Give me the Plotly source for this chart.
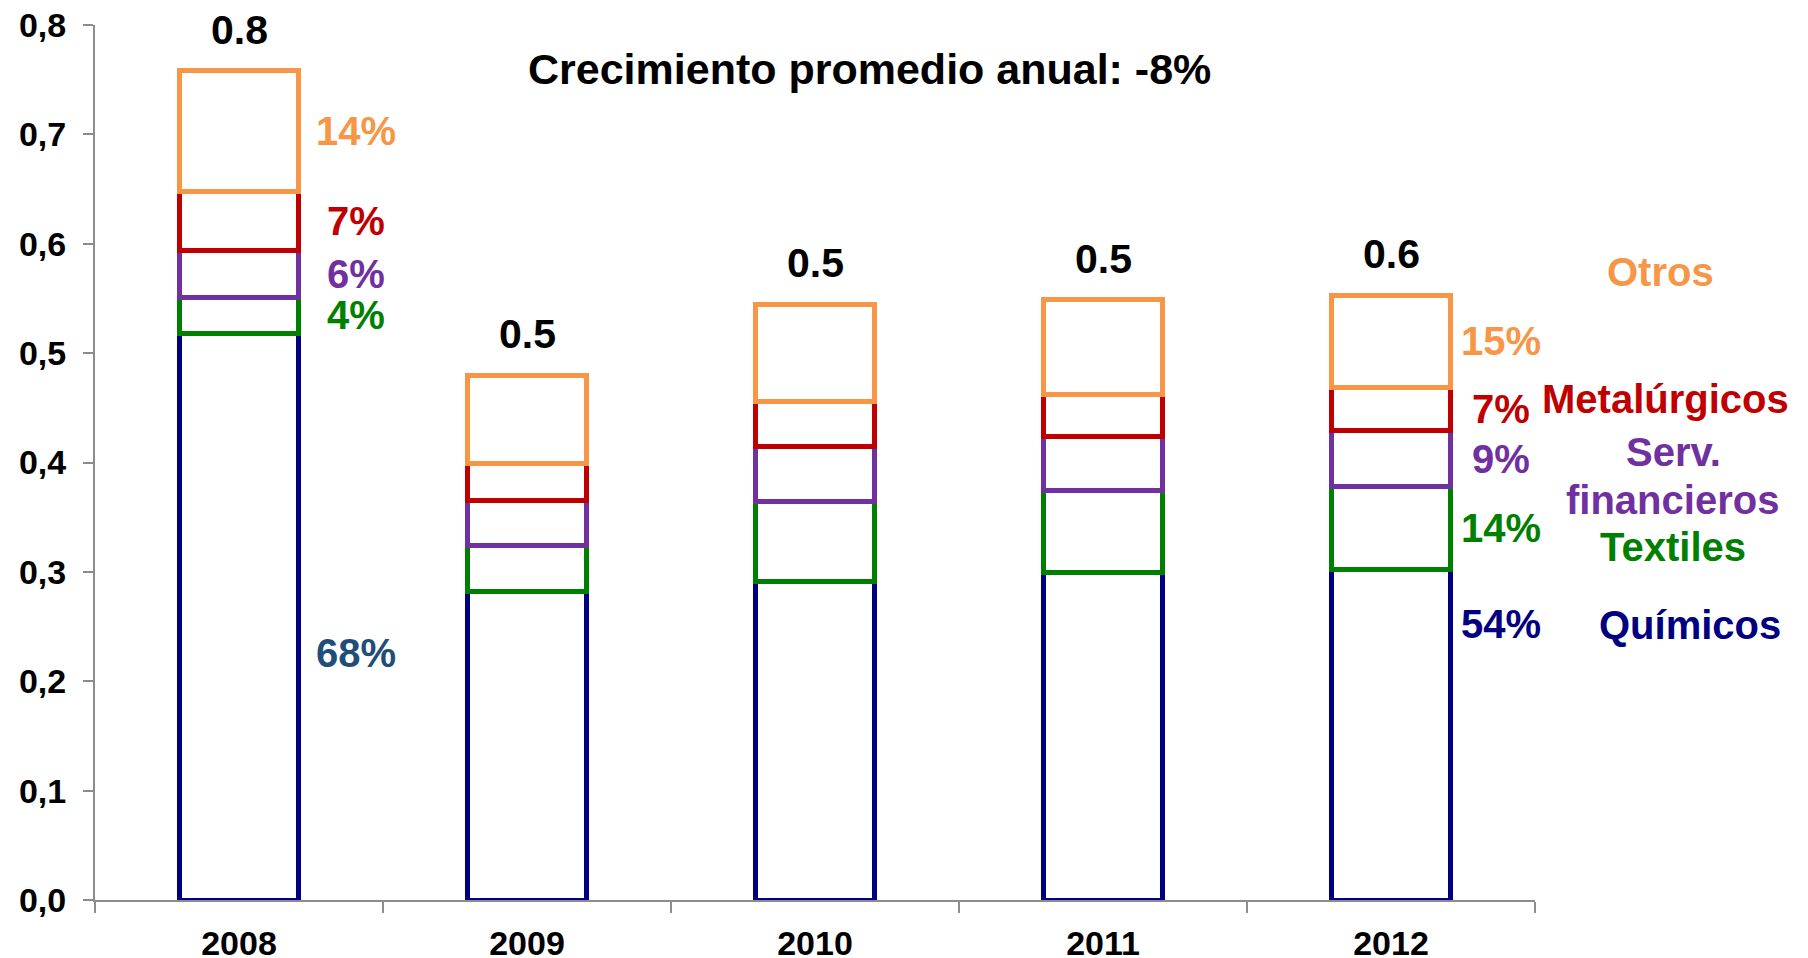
import plotly.graph_objects as go

years = ["2008", "2009", "2010", "2011", "2012"]

quimicos = [0.518, 0.282, 0.2915, 0.299, 0.302]
textiles = [0.033, 0.042, 0.0725, 0.075, 0.076]
serv_fin = [0.043, 0.041, 0.051, 0.0495, 0.051]
metal = [0.054, 0.034, 0.041, 0.039, 0.040]
otros = [0.110, 0.081, 0.0885, 0.0865, 0.084]

total_labels = ["0.8", "0.5", "0.5", "0.5", "0.6"]

pct_2008 = ["68%", "4%", "6%", "7%", "14%"]
pct_2012 = ["54%", "14%", "9%", "7%", "15%"]

series = [
    ("Químicos", quimicos, "#000080"),
    ("Textiles", textiles, "#008000"),
    ("Serv. financieros", serv_fin, "#7030A0"),
    ("Metalúrgicos", metal, "#C00000"),
    ("Otros", otros, "#F79646"),
]

FONT = "Liberation Sans, Arial, sans-serif"

fig = go.Figure()
for name, vals, col in series:
    fig.add_bar(x=years, y=vals, name=name, width=0.41,
                marker=dict(color="white", line=dict(color=col, width=5)))

ann = []

# totals above each bar (x given as category index)
totals = [sum(s[1][i] for s in series) for i in range(len(years))]
for i, (tot, lab) in enumerate(zip(totals, total_labels)):
    ann.append(dict(x=i, y=tot, text=lab, showarrow=False, xanchor="center",
                    yanchor="bottom", yshift=16,
                    font=dict(family=FONT, size=41, color="black", weight="bold")))

# share labels next to 2008 and 2012 bars
quim_label_y = {"2008": 0.226, "2012": 0.252}
for yr, pcts, shift, qcol in [("2008", pct_2008, 117, "#1F4E79"), ("2012", pct_2012, 110, "#000080")]:
    i = years.index(yr)
    base = 0
    for k, (name, vals, col) in enumerate(series):
        mid = base + vals[i] / 2
        base += vals[i]
        yy = quim_label_y[yr] if k == 0 else mid
        c = qcol if k == 0 else col
        ann.append(dict(x=i, y=yy, text=pcts[k], showarrow=False, xshift=shift,
                        xanchor="center", yanchor="middle",
                        font=dict(family=FONT, size=40, color=c, weight="bold")))

# category names on the right
legend_pos = [
    ("Otros", 1.0875, 0.574, "#F79646"),
    ("Metalúrgicos", 1.0903, 0.458, "#C00000"),
    ("Serv.", 1.0965, 0.4096, "#7030A0"),
    ("financieros", 1.0958, 0.3657, "#7030A0"),
    ("Textiles", 1.0958, 0.3231, "#008000"),
    ("Químicos", 1.1076, 0.2513, "#000080"),
]
for txt, px, py, col in legend_pos:
    ann.append(dict(x=px, y=py, xref="paper", yref="y", text=txt, showarrow=False,
                    xanchor="center", yanchor="middle",
                    font=dict(family=FONT, size=40, color=col, weight="bold")))

ann.append(dict(x=0.5375, y=0.9497, xref="paper", yref="paper",
                text="Crecimiento promedio anual: -8%", showarrow=False,
                xanchor="center", yanchor="middle",
                font=dict(family=FONT, size=43, color="black", weight="bold")))

# page body adds an 8px offset, so the figure is drawn 8px smaller with shifted margins
fig.update_layout(
    barmode="stack",
    width=1800, height=950,
    margin=dict(l=87, r=273, t=17, b=58),
    plot_bgcolor="white", paper_bgcolor="white",
    showlegend=False,
    separators=",.",
    annotations=ann,
)
fig.update_xaxes(type="category", range=[-0.5, 4.5], showline=True, linecolor="#8c8c8c",
                 linewidth=2, ticks="outside", tickson="boundaries", ticklen=11,
                 tickcolor="#8c8c8c", tickwidth=2, showgrid=False, automargin=False,
                 ticklabelstandoff=12, ticklabeloverflow="allow",
                 tickfont=dict(family=FONT, size=34, color="black", weight="bold"))
fig.update_yaxes(range=[0, 0.8], tickvals=[0, 0.1, 0.2, 0.3, 0.4, 0.5, 0.6, 0.7, 0.8],
                 tickformat=".1f", showline=True,
                 linecolor="#8c8c8c", linewidth=2, ticks="outside", ticklen=10,
                 tickcolor="#8c8c8c", tickwidth=2, showgrid=False, zeroline=False,
                 automargin=False, ticklabelstandoff=10, ticklabeloverflow="allow",
                 tickfont=dict(family=FONT, size=34, color="black", weight="bold"))

fig.write_html("out.html")
